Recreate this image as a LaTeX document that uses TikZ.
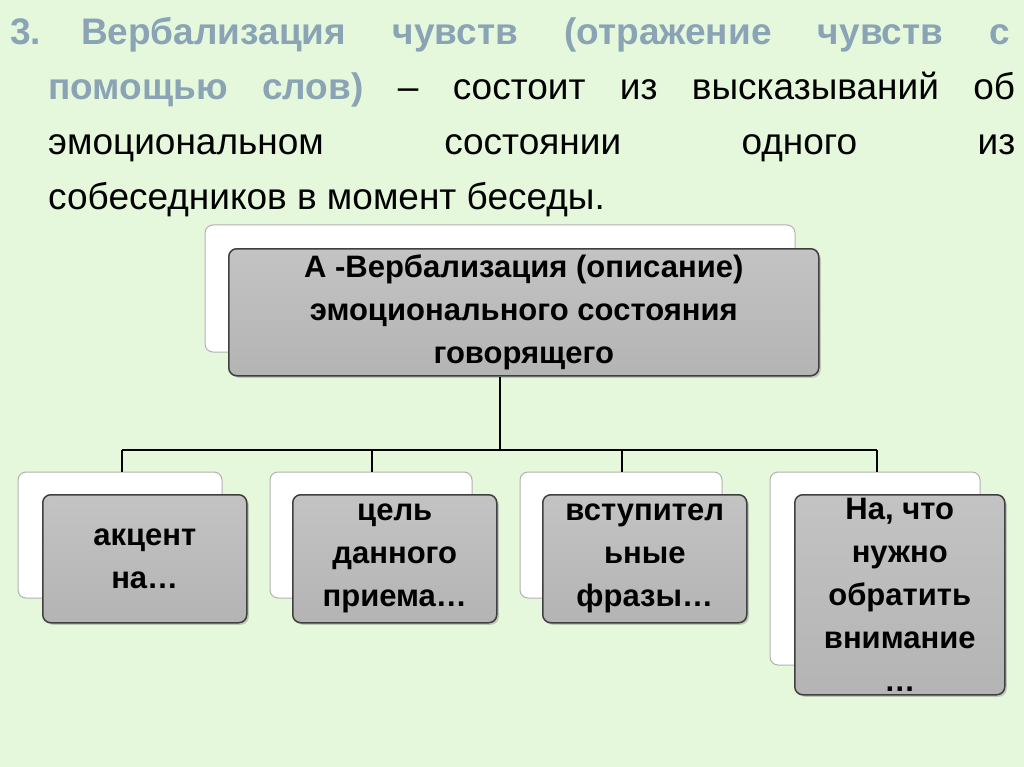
\documentclass[tikz,border=0pt]{standalone}
\usepackage{fontspec}
\setmainfont{Liberation Sans}
\usetikzlibrary{shadows}
\definecolor{bg}{HTML}{E6F8DC}
\definecolor{ttl}{HTML}{8AA4B6}
\definecolor{boxg}{HTML}{B4B4B4}
\begin{document}
\begin{tikzpicture}[x=1pt,y=-1pt,
 backbox/.style={draw=gray!60,fill=white,rounded corners=8pt,line width=1pt},
 frontbox/.style={draw=black!75,top color=boxg!80,bottom color=boxg,middle color=boxg!90,rounded corners=8pt,line width=1.5pt,drop shadow={opacity=0.4,shadow xshift=2pt,shadow yshift=-2pt}},
 lbl/.style={align=center,font=\bfseries\fontsize{31}{43}\selectfont},
 tline/.style={anchor=base west,inner sep=0pt,font=\fontsize{37}{40}\selectfont},
 conn/.style={line width=1.5pt,black}]
\fill[bg] (0,0) rectangle (1024,767);
\useasboundingbox (0,0) rectangle (1024,767);
\node[tline] (l1) at (10,45) {\makebox[1000pt][s]{\color{ttl}\bfseries 3.\hspace{40pt}Вербализация чувств (отражение чувств с}};
\node[tline] (l2) at (48,100) {\makebox[967pt][s]{{\color{ttl}\bfseries помощью слов)} – состоит из высказываний об}};
\node[tline] (l3) at (48,155) {\makebox[967pt][s]{эмоциональном состоянии одного из}};
\node[tline] (l4) at (48,210) {собеседников в момент беседы.};
% main
\draw[backbox] (205,225) rectangle (795,352);
\node[frontbox,minimum width=590pt,minimum height=127pt,anchor=north west,lbl] (main) at (228,248) {А -Вербализация (описание)\\эмоционального состояния\\говорящего};
% small boxes
\draw[backbox] (18,472) rectangle (222,598);
\node[frontbox,minimum width=204pt,minimum height=128pt,anchor=north west,lbl] (b1) at (42,494) {акцент\\на…};
\draw[backbox] (270,472) rectangle (472,598);
\node[frontbox,minimum width=204pt,minimum height=128pt,anchor=north west,lbl] (b2) at (292,494) {цель\\данного\\приема…};
\draw[backbox] (520,472) rectangle (722,598);
\node[frontbox,minimum width=204pt,minimum height=128pt,anchor=north west,lbl] (b3) at (542,494) {вступител\\ьные\\фразы…};
\draw[backbox] (770,472) rectangle (980,665);
\node[frontbox,minimum width=210pt,minimum height=194pt,anchor=north west,lbl] (b4) at (794,494) {На, что\\нужно\\обратить\\внимание\\…};
% connectors
\coordinate (hub) at (500,450);
\coordinate (h1) at (122,450);
\coordinate (h4) at (877,450);
\draw[conn] (main.south -| hub) -- (hub);
\draw[conn] (h1) -- (h4);
\draw[conn] (h1) -- (122,472);
\draw[conn] (372,450) -- (372,472);
\draw[conn] (622,450) -- (622,472);
\draw[conn] (h4) -- (877,472);
\end{tikzpicture}
\end{document}
